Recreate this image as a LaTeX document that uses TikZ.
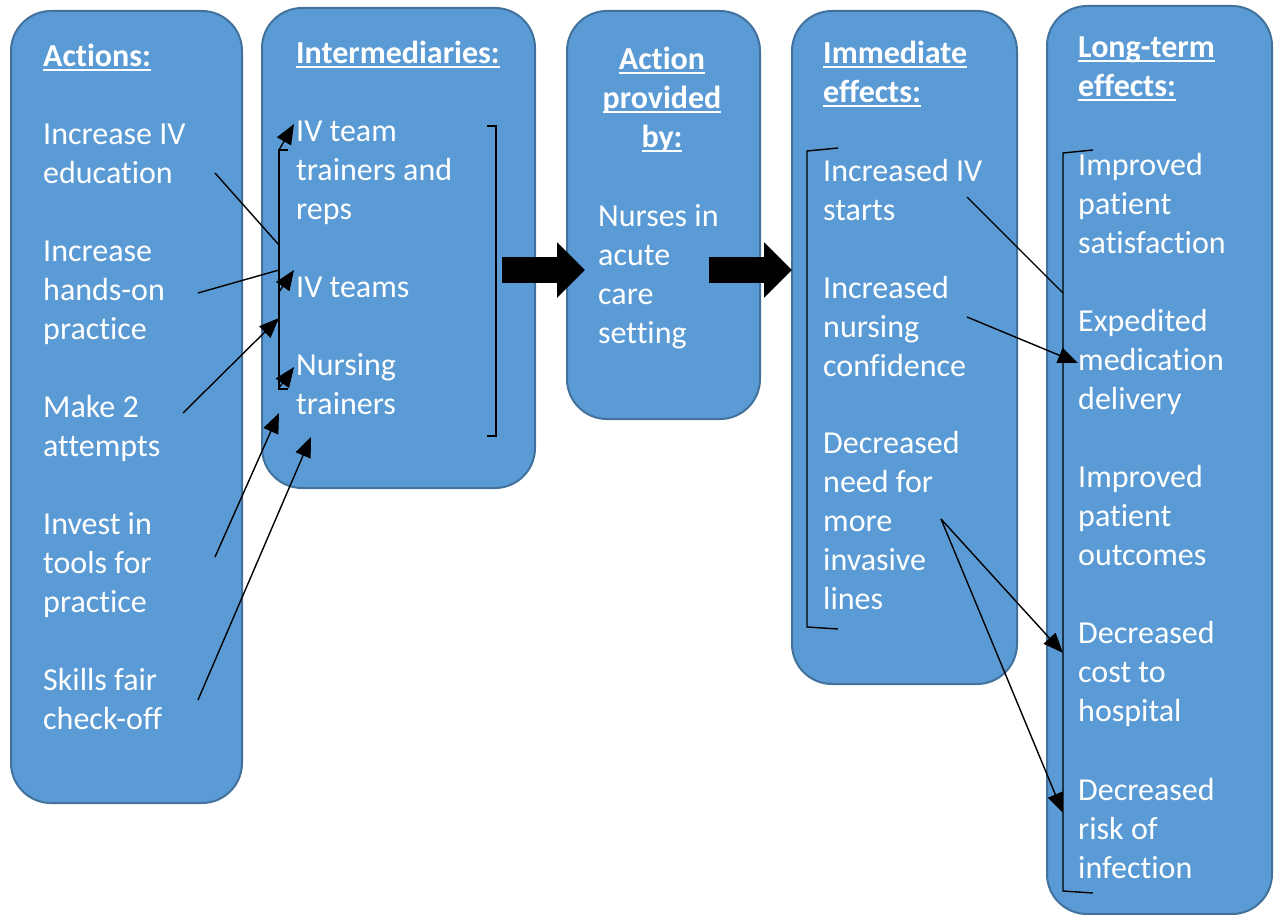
\documentclass[tikz,border=0pt]{standalone}
\usepackage{fontspec}
\setmainfont{Carlito}[Ligatures={NoCommon}]
\usetikzlibrary{arrows.meta}
\definecolor{boxfill}{HTML}{5B9BD5}
\definecolor{boxline}{HTML}{41719C}
\newcommand\hdu[1]{\setbox0\hbox{\bfseries #1}\rlap{\rule[-4pt]{\wd0}{2pt}}\box0}
\begin{document}
\begin{tikzpicture}[x=1pt,y=-1pt,
 col/.style={draw=boxline, line width=2pt, fill=boxfill, rounded corners=40pt, anchor=north west, inner sep=0pt},
 txt/.style={text=white, font=\fontsize{32}{39}\selectfont, inner sep=0pt, align=left, anchor=base west},
 link/.style={black, line width=1.4pt},
 arr/.style={link, -{Triangle[length=20pt,width=16pt]}},
 brk/.style={black, line width=1.4pt},
 bigarr/.style={black, line width=26pt, -{Triangle[length=28pt,width=54pt]}}
]
\useasboundingbox (0,0) rectangle (1278,915);
% columns
\node[col, minimum width=231pt, minimum height=792pt] (c1) at (10,10) {};
\node[col, minimum width=273pt, minimum height=480pt] (c2) at (261,7) {};
\node[col, minimum width=193pt, minimum height=408pt] (c3) at (566,10) {};
\node[col, minimum width=225pt, minimum height=673pt] (c4) at (791,10) {};
\node[col, minimum width=225pt, minimum height=908pt] (c5) at (1046,5) {};
% headers (anchor = baseline of last line)
\node[txt] (h1) at (43,67) {\hdu{Actions:}};
\node[txt] (h2) at (296,64) {\hdu{Intermediaries:}};
\node[txt, align=center, anchor=base] (h3) at (662,148) {\hdu{Action}\\\hdu{provided}\\\hdu{by:}};
\node[txt] (h4) at (823,103) {\hdu{Immediate}\\\hdu{effects:}};
\node[txt] (h5) at (1078,97) {\hdu{Long-term}\\\hdu{effects:}};
% actions
\node[txt] (a1) at (43,183) {Increase IV\\education};
\node[txt] (a2) at (43,339) {Increase\\hands-on\\practice};
\node[txt] (a3) at (43,456) {Make 2\\attempts};
\node[txt] (a4) at (43,612) {Invest in\\tools for\\practice};
\node[txt] (a5) at (43,729) {Skills fair\\check-off};
% intermediaries
\node[txt] (i1) at (296,219) {IV team\\trainers and\\reps};
\node[txt] (i2) at (296,297) {IV teams};
\node[txt] (i3) at (296,414) {Nursing\\trainers};
% provided by
\node[txt] (p1) at (598,343) {Nurses in\\acute\\care\\setting};
% immediate
\node[txt] (m1) at (823,220) {Increased IV\\starts};
\node[txt] (m2) at (823,376) {Increased\\nursing\\confidence};
\node[txt] (m3) at (823,609) {Decreased\\need for\\more\\invasive\\lines};
% long-term
\node[txt] (l1) at (1078,253) {Improved\\patient\\satisfaction};
\node[txt] (l2) at (1078,409) {Expedited\\medication\\delivery};
\node[txt] (l3) at (1078,565) {Improved\\patient\\outcomes};
\node[txt] (l4) at (1078,721) {Decreased\\cost to\\hospital};
\node[txt] (l5) at (1078,878) {Decreased\\risk of\\infection};
% brackets
\draw[brk] (288,150) -- (279,150) -- (279,389) -- (288,389);
\draw[brk] (487,126) -- (496,126) -- (496,436) -- (487,436);
\draw[brk] (838,148) -- (807,151) -- (807,627) -- (838,629);
\draw[brk] (1093,150) -- (1063,153) -- (1063,891) -- (1093,893);
% coordinates for connectors
\coordinate (sa1) at (215,173);
\coordinate (sa2) at (198,293);
\coordinate (sa3) at (183,413);
\coordinate (sa4) at (215,557);
\coordinate (sa5) at (198,700);
\coordinate (ba1) at (279,245);
\coordinate (ba2) at (279,270);
\coordinate (ba3) at (279,318);
\coordinate (ta4) at (279,413);
\coordinate (ta5) at (311,437);
\coordinate (bt) at (279,150);
\coordinate (bm) at (279,292);
\coordinate (bb) at (279,388);
\coordinate (ti1) at (294,124);
\coordinate (ti2) at (294,270);
\coordinate (ti3) at (294,367);
\draw[link] (sa1) -- (ba1);
\draw[link] (sa2) -- (ba2);
\draw[arr] (sa3) -- (ba3);
\draw[arr] (sa4) -- (ta4);
\draw[arr] (sa5) -- (ta5);
\draw[arr] (bt) -- (ti1);
\draw[arr] (bm) -- (ti2);
\draw[arr] (bb) -- (ti3);
% big arrows
\coordinate (g1s) at (502,270);
\coordinate (g1e) at (585,270);
\coordinate (g2s) at (709,270);
\coordinate (g2e) at (792,270);
\draw[bigarr] (g1s) -- (g1e);
\draw[bigarr] (g2s) -- (g2e);
% immediate -> long-term
\coordinate (sm1) at (967,197);
\coordinate (em1) at (1063,293);
\coordinate (sm2) at (967,317);
\coordinate (em2) at (1078,363);
\coordinate (sm3) at (941,519);
\coordinate (em3) at (1063,653);
\coordinate (em4) at (1063,813);
\draw[link] (sm1) -- (em1);
\draw[arr] (sm2) -- (em2);
\draw[arr] (sm3) -- (em3);
\draw[arr] (sm3) -- (em4);
\end{tikzpicture}
\end{document}
